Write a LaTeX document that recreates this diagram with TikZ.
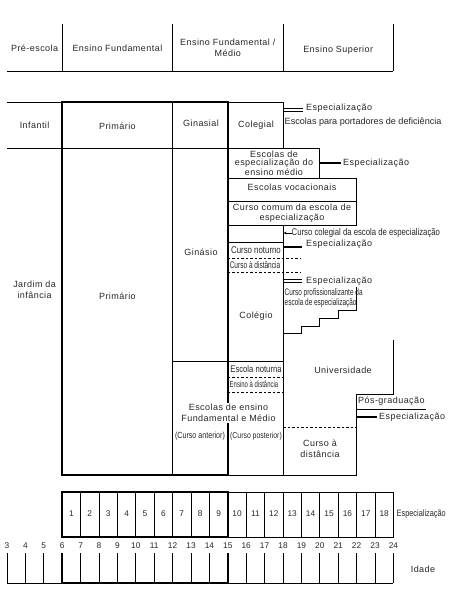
\documentclass[tikz,border=0pt]{standalone}
\usepackage{fontspec}
\setmainfont{Liberation Sans}[LetterSpace=5]
\newfontfamily\plainfont{Liberation Sans}
\newfontfamily\narrowfont{Liberation Sans}[FakeStretch=0.8]
\newfontfamily\condfont{Liberation Sans}[FakeStretch=0.68]
\usetikzlibrary{arrows.meta}
\begin{document}
\begin{tikzpicture}[x=1pt,y=-1pt,
  lbl/.style={inner sep=0pt,align=center,text=black!85,font=\fontsize{9}{11}\selectfont},
  nar/.style={inner sep=0pt,align=left,text=black!85,font=\narrowfont\fontsize{9.4}{10}\selectfont},
  num/.style={inner sep=0pt,text=black!85,font=\plainfont\fontsize{8.3}{9}\selectfont},
  thin/.style={line width=0.8pt},
  thick2/.style={line width=1.9pt},
  dsh/.style={line width=0.8pt,dash pattern=on 2.5pt off 2pt}]
\useasboundingbox (0,0) rectangle (454,605);
% ---------- header ----------
\draw[thin] (7,71) -- (393.4,71);
\foreach \x in {62.2,172.6,283,393.4} \draw[thin] (\x,24) -- (\x,71);
\node[lbl] (hpre) at (34.6,48) {Pré-escola};
\node[lbl] (hfund) at (117.4,48) {Ensino Fundamental};
\node[lbl] (hmed) at (227.8,48) {Ensino Fundamental /\\Médio};
\node[lbl] (hsup) at (338.2,50) {Ensino Superior};
% ---------- main grid ----------
\draw[thin] (7,102) -- (62.2,102);
\draw[thin] (7,148) -- (227.8,148);
\draw[thin] (172.6,102) -- (172.6,475);
\draw[thin] (172.6,361) -- (283,361);
% colegial box
\draw[thin] (227.8,102) rectangle (283,148);
\draw[thin] (283,108) -- (303,108);
\draw[thin] (283,111) -- (303,111);
% escolas de especializacao
\draw[thin] (227.8,148) rectangle (319.8,178);
\draw[line width=1.5pt] (319.8,163) -- (341,163);
\draw[thin] (227.8,178) rectangle (356.6,201.5);
\draw[thin] (227.8,201.5) rectangle (356.6,225);
\draw[thin] (283,225) -- (283,475);
% curso noturno
\draw[thin] (227.8,242) -- (283,242);
\draw[line width=1.5pt] (283,247) -- (302,247);
\draw[dsh] (227.8,258) -- (301.4,258);
\draw[dsh] (227.8,272) -- (301.4,272);
\draw[thin] (284,279) -- (302,279);
\draw[thin] (284,282) -- (302,282);
% steps
\draw[thin] (356.6,287) -- (356.6,310) -- (338.2,310) -- (338.2,318) -- (319.8,318) -- (319.8,326) -- (301.4,326) -- (301.4,333) -- (283,333);
% universidade
\draw[thin] (393.4,340) -- (393.4,394) -- (356.6,394) -- (356.6,475) -- (227.8,475);
\draw[thin] (356.6,409) -- (426,409);
\draw[line width=1.5pt] (356.6,417) -- (377,417);
\draw[dsh] (283,427) -- (356.6,427);
% escola noturna
\draw[dsh] (227.8,377) -- (283,377);
\draw[dsh] (227.8,392) -- (283,392);
% thick primario box
\draw[thick2] (62.2,102) rectangle (227.8,475);
% ---------- labels ----------
\node[lbl] (infantil) at (34.6,125) {Infantil};
\node[lbl] (prim1) at (117.4,126) {Primário};
\node[lbl] (ginasial) at (201,123) {Ginasial};
\node[lbl] (colegial) at (256,125) {Colegial};
\node[lbl,anchor=west] (esp1) at (306,108) {Especialização};
\node[lbl,anchor=west,font=\plainfont\fontsize{9.1}{11}\selectfont] (portadores) at (284.5,122) {Escolas para portadores de deficiência};
\node[lbl,font=\fontsize{9}{8.2}\selectfont] (escesp) at (274,163) {Escolas de\\especialização do\\ensino médio};
\node[lbl,anchor=west] (esp2) at (343,163) {Especialização};
\node[lbl] (vocac) at (292,187) {Escolas vocacionais};
\node[lbl,font=\fontsize{9}{10}\selectfont] (comum) at (292,213) {Curso comum da escola de\\especialização};
\node[nar,anchor=west,font=\narrowfont\fontsize{9.7}{10}\selectfont] (colesp) at (291.5,233) {Curso colegial da escola de especialização};
\draw[-{Stealth[length=3pt,width=2.6pt]},thin] (colesp.west) -- (283.6,233);
\node[nar,font=\narrowfont\fontsize{9.8}{10}\selectfont] (noturno) at (256,250) {Curso noturno};
\node[lbl,anchor=west] (esp3) at (306,244) {Especialização};
\node[nar,font=\condfont\fontsize{9.6}{10}\selectfont] (distancia1) at (255,265.5) {Curso à distância};
\node[lbl,anchor=west] (esp4) at (306,281) {Especialização};
\node[nar,anchor=north west,font=\condfont\fontsize{9.5}{10}\selectfont] (prof) at (284.5,288) {Curso profissionalizante da\\escola de especialização};
\node[lbl] (colegio) at (256,316) {Colégio};
\node[lbl] (ginasio) at (201,252) {Ginásio};
\node[lbl] (jardim) at (34.6,290) {Jardim da\\infância};
\node[lbl] (prim2) at (117.4,296) {Primário};
\node[lbl] (univ) at (343,370) {Universidade};
\node[lbl,anchor=west] (posgrad) at (358,401) {Pós-graduação};
\node[lbl,anchor=west] (esp5) at (379,417) {Especialização};
\node[lbl] (distancia2) at (320,449) {Curso à\\distância};
\node[nar,font=\narrowfont\fontsize{9.6}{10}\selectfont] (escnot) at (256,369.5) {Escola noturna};
\node[nar,font=\condfont\fontsize{8.8}{10}\selectfont] (ensdist) at (254,384.5) {Ensino à distância};
\node[lbl,fill=white,inner sep=1.5pt] (escfund) at (228.5,413) {Escolas de ensino\\Fundamental e Médio};
\node[nar,font=\narrowfont\fontsize{8.9}{10}\selectfont] (antes) at (200,436) {(Curso anterior)};
\node[nar,font=\narrowfont\fontsize{8.6}{10}\selectfont] (depois) at (256,436) {(Curso posterior)};
% ---------- bottom timeline ----------
\draw[thin] (62.2,492) rectangle (393.4,537);
\foreach \i in {1,...,17} \draw[thin] ({62.2+18.4*\i},492) -- ({62.2+18.4*\i},537);
\draw[thick2] (62.2,492) rectangle (227.8,537);
\foreach \i in {1,...,18} \node[num] (c\i) at ({62.2+18.4*(\i-0.5)},514) {\i};
\node[nar,anchor=west,font=\narrowfont\fontsize{9.2}{10}\selectfont] (espbot) at (396.5,514) {Especialização};
\foreach \a in {3,...,24} {
  \node[num] (a\a) at ({7+18.4*(\a-3)},546) {\a};
  \draw[thin] ({7+18.4*(\a-3)},553) -- ({7+18.4*(\a-3)},583);
}
\draw[thin] (7,583) -- (393.4,583);
\draw[thick2] (62.2,553) -- (62.2,583) -- (227.8,583) -- (227.8,553);
\node[lbl] (idade) at (423,569) {Idade};
\end{tikzpicture}
\end{document}
